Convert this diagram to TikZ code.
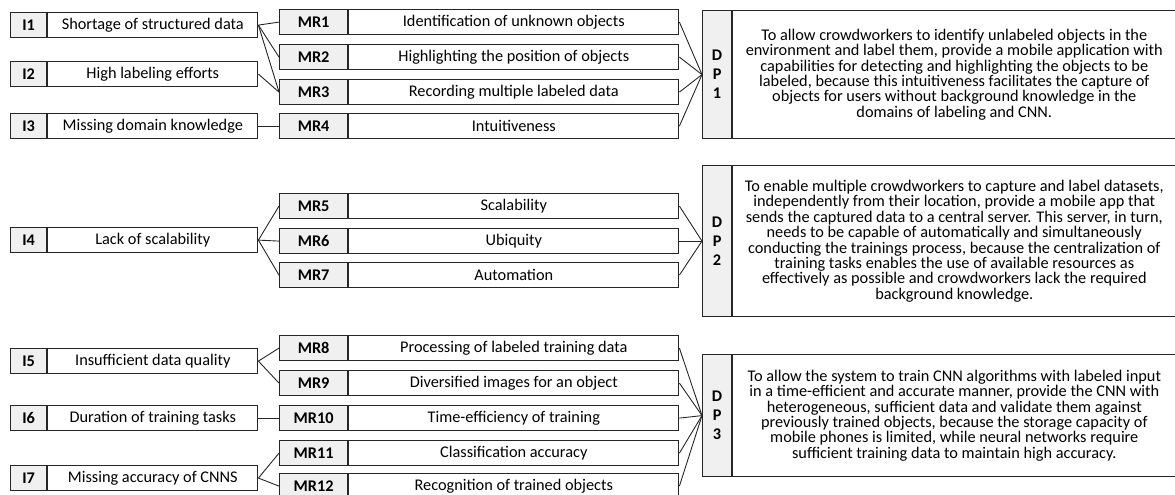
\documentclass[tikz,border=0pt]{standalone}
\usepackage{fontspec}
\setmainfont{Carlito}

% one labelled row: name, label, text, x of label cell, label width, text width, top
\newcommand\tworow[7]{%
  \node[idcell, minimum width=#5] (#1id) at (#4,#7) {#2};
  \node[cell, minimum width=#6] (#1) at (#1id.north east) {#3};}
\newcommand\issuerow[4]{\tworow{#1}{#2}{#3}{10}{36pt}{210pt}{#4}}
\newcommand\mrrow[4]{\tworow{#1}{#2}{#3}{279}{68pt}{330pt}{#4}}
% design principle: name, number, text, top, height
\newcommand\dprow[5]{%
  \node[idcell, minimum width=29pt, minimum height=#5, align=center] (#1) at (702,#4)
    {D\\[3.5pt]P\\[3.5pt]#2};
  \node[cell, minimum width=443pt, minimum height=#5, align=center]
    (#1txt) at (#1.north east) {#3};}

\begin{document}
\begin{tikzpicture}[x=1pt,y=-1pt,
  cell/.style={draw=black!85, line width=1.2pt, inner sep=0pt, minimum height=25pt,
    anchor=north west, font=\fontsize{16.3}{15.4}\selectfont},
  idcell/.style={cell, fill=black!6, font=\fontsize{16.3}{15.4}\selectfont\bfseries},
  link/.style={draw=black!85, line width=0.9pt}]
\useasboundingbox (0,0) rectangle (1175,495);

% ---------- group 1 ----------
\issuerow{i1}{I1}{Shortage of structured data}{12}
\issuerow{i2}{I2}{High labeling efforts}{61}
\issuerow{i3}{I3}{Missing domain knowledge}{113}
\mrrow{mr1}{MR1}{Identification of unknown objects}{9}
\mrrow{mr2}{MR2}{Highlighting the position of objects}{44}
\mrrow{mr3}{MR3}{Recording multiple labeled data}{79}
\mrrow{mr4}{MR4}{Intuitiveness}{113}
\dprow{dp1}{1}{To allow crowdworkers to identify unlabeled objects in the\\
  environment and label them, provide a mobile application with\\
  capabilities for detecting and highlighting the objects to be\\
  labeled, because this intuitiveness facilitates the capture of\\
  objects for users without background knowledge in the\\
  domains of labeling and CNN.}{10}{128pt}

\draw[link] (i1.east) -- (mr1id.west);
\draw[link] (i1.east) -- (mr2id.west);
\draw[link] (i1.east) -- (mr3id.west);
\draw[link] (i2.east) -- (mr3id.west);
\draw[link] (i3.east) -- (mr4id.west);
\foreach \m in {mr1,mr2,mr3,mr4} \draw[link] (\m.east) -- (dp1.west);

% ---------- group 2 ----------
\issuerow{i4}{I4}{Lack of scalability}{227}
\mrrow{mr5}{MR5}{Scalability}{193}
\mrrow{mr6}{MR6}{Ubiquity}{228}
\mrrow{mr7}{MR7}{Automation}{262}
\dprow{dp2}{2}{To enable multiple crowdworkers to capture and label datasets,\\
  independently from their location, provide a mobile app that\\
  sends the captured data to a central server. This server, in turn,\\
  needs to be capable of automatically and simultaneously\\
  conducting the trainings process, because the centralization of\\
  training tasks enables the use of available resources as\\
  effectively as possible and crowdworkers lack the required\\
  background knowledge.}{165}{151pt}

\foreach \m in {mr5,mr6,mr7} {
  \draw[link] (i4.east) -- (\m id.west);
  \draw[link] (\m.east) -- (dp2.west);}

% ---------- group 3 ----------
\issuerow{i5}{I5}{Insufficient data quality}{348}
\issuerow{i6}{I6}{Duration of training tasks}{405}
\issuerow{i7}{I7}{Missing accuracy of CNNS}{465}
\mrrow{mr8}{MR8}{Processing of labeled training data}{335}
\mrrow{mr9}{MR9}{Diversified images for an object}{370}
\mrrow{mr10}{MR10}{Time-efficiency of training}{405}
\mrrow{mr11}{MR11}{Classification accuracy}{440}
\mrrow{mr12}{MR12}{Recognition of trained objects}{473}
\dprow{dp3}{3}{To allow the system to train CNN algorithms with labeled input\\
  in a time-efficient and accurate manner, provide the CNN with\\
  heterogeneous, sufficient data and validate them against\\
  previously trained objects, because the storage capacity of\\
  mobile phones is limited, while neural networks require\\
  sufficient training data to maintain high accuracy.}{354}{122pt}

\draw[link] (i5.east) -- (mr8id.west);
\draw[link] (i5.east) -- (mr9id.west);
\draw[link] (i6.east) -- (mr10id.west);
\draw[link] (i7.east) -- (mr11id.west);
\draw[link] (i7.east) -- (mr12id.west);
\foreach \m in {mr8,mr9,mr10,mr11,mr12} \draw[link] (\m.east) -- (dp3.west);
\end{tikzpicture}
\end{document}
